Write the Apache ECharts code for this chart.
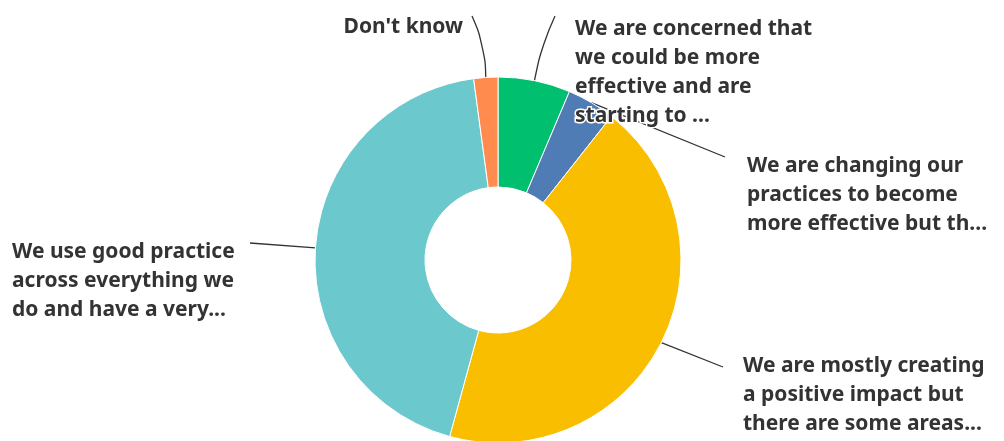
<!DOCTYPE html>
<html>
<head>
<meta charset="utf-8">
<script src="https://cdn.jsdelivr.net/npm/echarts@6/dist/echarts.min.js"></script>
<style>
  html, body { margin: 0; padding: 0; background: #fff; }
  #chart { width: 1004px; height: 441px; }
</style>
</head>
<body>
<div id="chart"></div>
<script>
// Answer options (clockwise from 12 o'clock) and response counts
const categories = [
  "We are concerned that\nwe could be more\neffective and are\nstarting to ...",
  "We are changing our\npractices to become\nmore effective but th...",
  "We are mostly creating\na positive impact but\nthere are some areas...",
  "We use good practice\nacross everything we\ndo and have a very...",
  "Don't know"
];
const responses = [6, 4, 41, 41, 2];
const sliceColors = ['#00BF6F', '#507CB6', '#F9BE00', '#6BC8CD', '#FF8B4F'];

// Where each label block sits and how its leader line bends
const labelPlacement = [
  { x: 575, y: 15,  align: 'left',  via: [[542, 44]], end: [555, 16], smooth: 0.5 },
  { x: 747, y: 152, align: 'left',  via: [],          end: [725, 157], smooth: 0 },
  { x: 743, y: 352, align: 'left',  via: [],          end: [723, 367], smooth: 0 },
  { x: 12,  y: 238, align: 'left',  via: [],          end: [250, 243], smooth: 0 },
  { x: 463, y: 13,  align: 'right', via: [[485, 46]], end: [472, 16], smooth: 0.5 }
];

const chart = echarts.init(document.getElementById('chart'), null, { renderer: 'canvas' });

const seriesData = categories.map((name, i) => ({
  name: name,
  value: responses[i],
  itemStyle: { color: sliceColors[i] },
  labelLine: { smooth: labelPlacement[i].smooth }
}));

chart.setOption({
  animation: false,
  backgroundColor: '#ffffff',
  series: [{
    type: 'pie',
    center: [498, 260],
    radius: [73, 183],
    startAngle: 90,
    clockwise: true,
    avoidLabelOverlap: false,
    itemStyle: { borderColor: '#ffffff', borderWidth: 1 },
    label: {
      show: true,
      position: 'outside',
      formatter: '{b}',
      color: '#333333',
      fontFamily: 'Noto Sans',
      fontWeight: 'bold',
      fontSize: 21,
      lineHeight: 29,
      textBorderColor: '#ffffff',
      textBorderWidth: 3
    },
    labelLine: {
      show: true,
      length: 10,
      length2: 10,
      lineStyle: { color: '#333333', width: 1.3 }
    },
    labelLayout: function (params) {
      const p = labelPlacement[params.dataIndex];
      const start = params.labelLinePoints ? params.labelLinePoints[0] : p.end;
      return {
        x: p.x,
        y: p.y,
        align: p.align,
        verticalAlign: 'top',
        labelLinePoints: [start].concat(p.via, [p.end])
      };
    },
    data: seriesData
  }]
});
</script>
</body>
</html>
